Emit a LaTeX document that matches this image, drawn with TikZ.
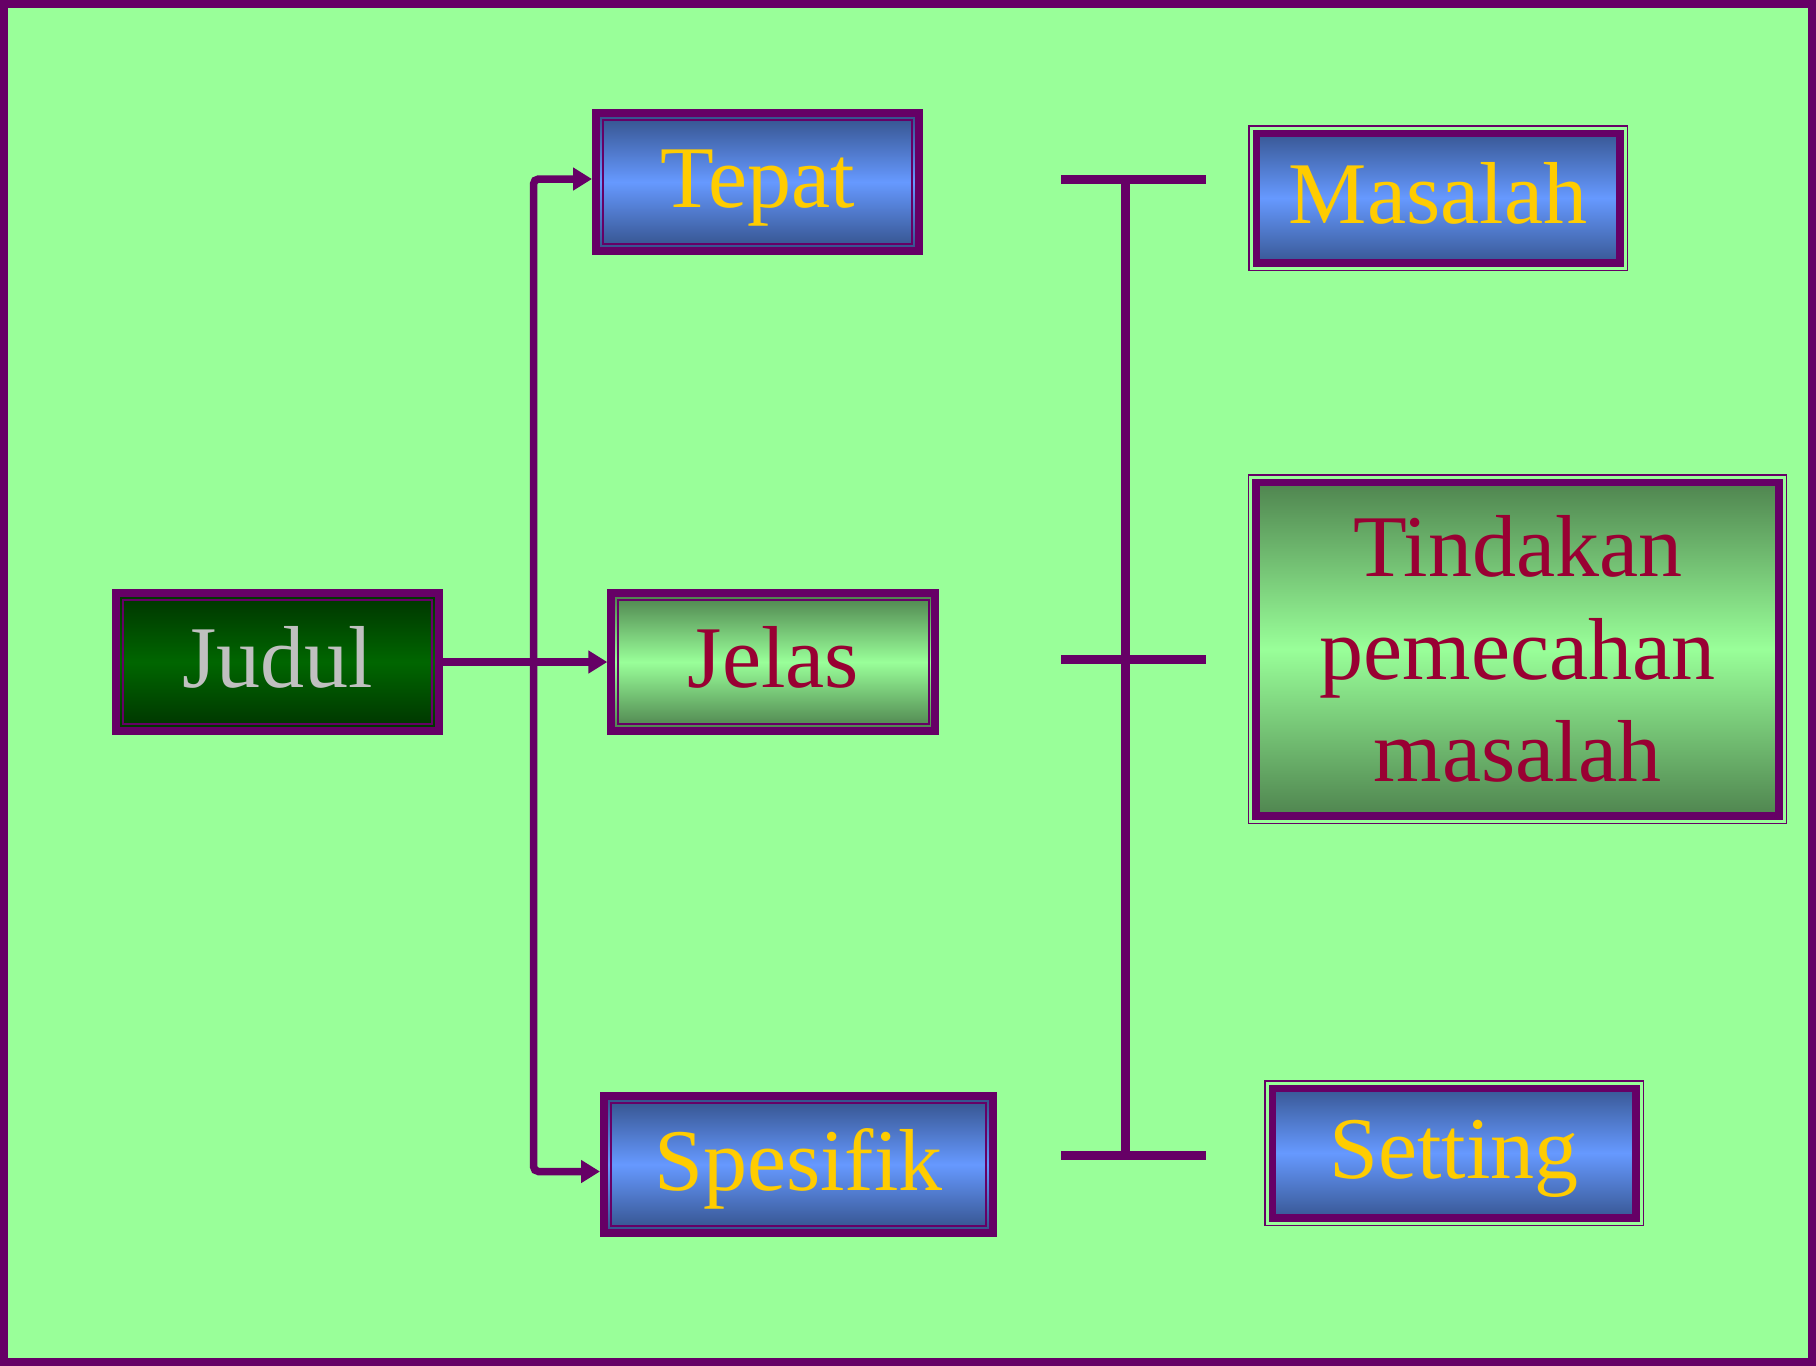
\documentclass[tikz,border=0pt]{standalone}
\usepackage{fontspec}
\setmainfont{Liberation Serif}
\usetikzlibrary{arrows.meta}
\definecolor{bg}{HTML}{99FF99}
\definecolor{pur}{HTML}{660066}
\definecolor{blueedge}{HTML}{335088}
\definecolor{bluemid}{HTML}{6699FF}
\definecolor{gold}{HTML}{FFCC00}
\definecolor{greenedge}{HTML}{4C7F4C}
\definecolor{greenmid}{HTML}{99FF99}
\definecolor{crim}{HTML}{990033}
\definecolor{judedge}{HTML}{003300}
\definecolor{judmid}{HTML}{006600}
\definecolor{silv}{HTML}{C0C0C0}
\tikzset{
  lbl/.style={font=\fontsize{88pt}{102.5pt}\selectfont, inner sep=0pt},
  onetext/.style={text height=58pt, text depth=7pt},
  bluebox/.style={top color=blueedge, bottom color=blueedge, middle color=bluemid, text=gold},
  greenbox/.style={top color=greenedge, bottom color=greenedge, middle color=greenmid, text=crim},
  judulbox/.style={top color=judedge, bottom color=judedge, middle color=judmid, text=silv},
  thickframe/.style={draw=pur, line width=8pt,
    path picture={\draw[pur, line width=2pt]
      ([shift={(6.8pt,-6.8pt)}]path picture bounding box.north west) rectangle
      ([shift={(-6.8pt,6.8pt)}]path picture bounding box.south east);}},
  thinframe/.style={draw=pur, line width=1.5pt,
    path picture={
      \draw[bg, line width=7.5pt]
        (path picture bounding box.north west) rectangle (path picture bounding box.south east);
      \draw[pur, line width=7.5pt]
        ([shift={(7.5pt,-7.5pt)}]path picture bounding box.north west) rectangle
        ([shift={(-7.5pt,7.5pt)}]path picture bounding box.south east);}},
  conn/.style={pur, line width=7.5pt},
  brk/.style={pur, line width=9pt},
  tip/.tip={Triangle[length=19pt,width=22pt]}
}
\begin{document}
\begin{tikzpicture}[x=1pt,y=-1pt]
\useasboundingbox (0,0) rectangle (1816,1366);
\fill[bg] (0,0) rectangle (1816,1366);
\draw[pur, line width=8pt] (4,4) rectangle (1812,1362);

% left column boxes
\node[lbl, onetext, judulbox, thickframe, minimum width=323pt, minimum height=138pt] (judul) at (277.5,662) {Judul};
\node[lbl, onetext, bluebox, thickframe, minimum width=323pt, minimum height=138pt] (tepat) at (757.5,182) {Tepat};
\node[lbl, onetext, greenbox, thickframe, minimum width=324pt, minimum height=138pt] (jelas) at (773.3,662) {Jelas};
\node[lbl, onetext, bluebox, thickframe, minimum width=389pt, minimum height=137pt] (spesifik) at (798.5,1164.5) {Spesifik};

% right column boxes
\node[lbl, onetext, bluebox, thinframe, minimum width=378.5pt, minimum height=144.5pt] (masalah) at (1438,198) {Masalah};
\node[lbl, greenbox, thinframe, align=center, minimum width=538pt, minimum height=348.5pt] (tindakan) at (1517.7,649) {Tindakan\\pemecahan\\masalah};
\node[lbl, onetext, bluebox, thinframe, minimum width=378.5pt, minimum height=144.5pt] (setting) at (1454,1153) {Setting};

% left connectors
\coordinate (lx) at (533.5,662);
\draw[conn, -tip] (judul.east) -- (jelas.west);
\draw[conn, tip-tip, rounded corners=5pt]
  ([yshift=3pt]tepat.west) -- ([yshift=3pt]tepat.west -| lx)
  -- ([yshift=-7pt]spesifik.west -| lx) -- ([yshift=-7pt]spesifik.west);

% right bracket
\coordinate (bt1) at (1061,179.5);
\coordinate (bt2) at (1206,179.5);
\coordinate (bm1) at (1061,659);
\coordinate (bm2) at (1206,659);
\coordinate (bb1) at (1061,1155);
\coordinate (bb2) at (1206,1155);
\coordinate (vt) at (1125.5,179.5);
\coordinate (vb) at (1125.5,1155);
\draw[brk] (bt1) -- (bt2);
\draw[brk] (bm1) -- (bm2);
\draw[brk] (bb1) -- (bb2);
\draw[brk] (vt) -- (vb);
\end{tikzpicture}
\end{document}
